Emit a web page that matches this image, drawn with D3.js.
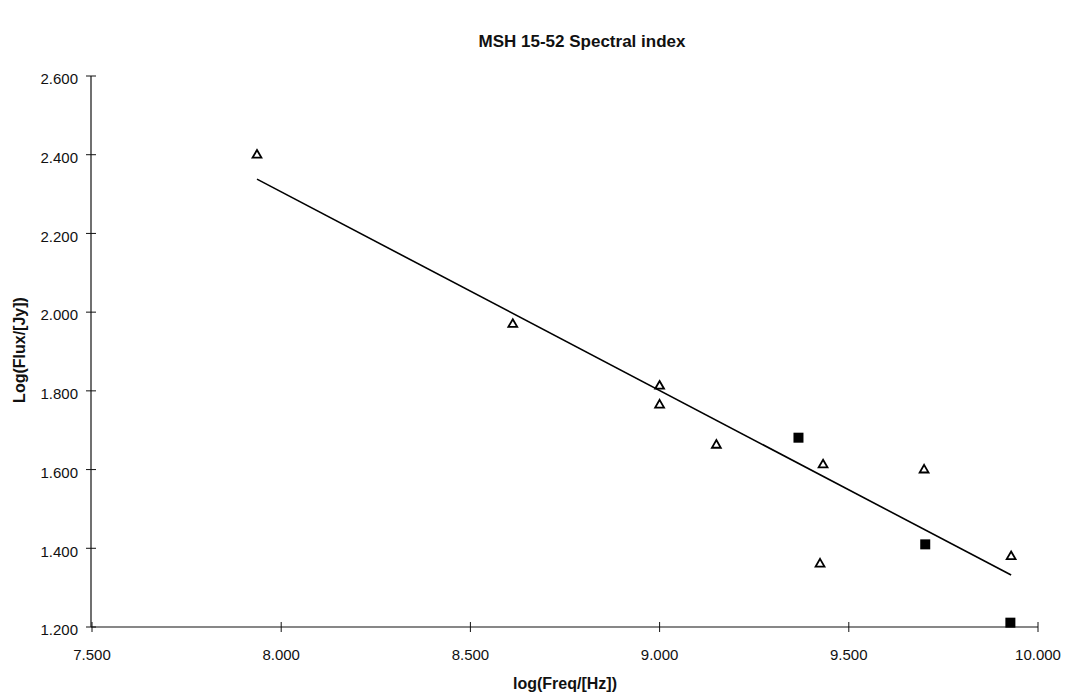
<!DOCTYPE html>
<html>
<head>
<meta charset="utf-8">
<script src="https://cdn.jsdelivr.net/npm/d3@7"></script>
<style>
  html, body { margin: 0; padding: 0; background: #fff; }
  svg { display: block; font-family: "Liberation Sans", Arial, sans-serif; }
</style>
</head>
<body>
<svg id="chart" width="1067" height="697"></svg>
<script>
// Radio spectrum of MSH 15-52: log frequency vs log flux density
const triX = [7.936, 8.612, 9.000, 9.000, 9.150, 9.432, 9.424, 9.699, 9.929];
const triY = [2.399, 1.969, 1.812, 1.764, 1.662, 1.612, 1.360, 1.599, 1.379];
const sqX = [9.367, 9.702, 9.927];
const sqY = [1.681, 1.410, 1.211];
// Fitted power law (straight line in log-log)
const fitX = [7.936, 9.929];
const fitY = [2.338, 1.332];
const xTicks = [7.5, 8.0, 8.5, 9.0, 9.5, 10.0];
const yTicks = [1.2, 1.4, 1.6, 1.8, 2.0, 2.2, 2.4, 2.6];

const svg = d3.select("#chart");
const x = d3.scaleLinear().domain([7.5, 10.0]).range([92, 1038]);
const y = d3.scaleLinear().domain([1.2, 2.6]).range([627, 76]);
const fmt = d3.format(".3f");

// Axes with ticks crossing the axis line
const xAxis = svg.append("g").attr("transform", `translate(0,${y(1.2)})`);
xAxis.append("line").attr("x1", 91).attr("x2", x(10)).attr("stroke", "#111").attr("stroke-width", 1.2);
xAxis.selectAll("line.t").data(xTicks).join("line").attr("class", "t")
  .attr("x1", d => x(d)).attr("x2", d => x(d)).attr("y1", -5).attr("y2", 5)
  .attr("stroke", "#111").attr("stroke-width", 1);
xAxis.selectAll("text").data(xTicks).join("text")
  .attr("x", d => x(d)).attr("y", 33).attr("text-anchor", "middle")
  .attr("font-size", 15).attr("fill", "#111").text(fmt);

const yAxis = svg.append("g").attr("transform", "translate(91,0)");
yAxis.append("line").attr("y1", y(2.6)).attr("y2", y(1.2)).attr("stroke", "#111").attr("stroke-width", 1.2);
yAxis.selectAll("line.t").data(yTicks).join("line").attr("class", "t")
  .attr("x1", -5).attr("x2", 5).attr("y1", d => y(d)).attr("y2", d => y(d))
  .attr("stroke", "#111").attr("stroke-width", 1);
yAxis.selectAll("text").data(yTicks).join("text")
  .attr("x", -13).attr("y", d => y(d) + 3).attr("dy", "0.35em").attr("text-anchor", "end")
  .attr("font-size", 15).attr("fill", "#111").text(fmt);

// Fit line
svg.append("path")
  .datum(fitX.map((v, i) => [v, fitY[i]]))
  .attr("d", d3.line().x(d => x(d[0])).y(d => y(d[1])))
  .attr("fill", "none").attr("stroke", "#000").attr("stroke-width", 1.6);

// Open triangles
const tri = d3.symbol().type(d3.symbolTriangle).size(34);
svg.append("g").selectAll("path").data(triX.map((v, i) => [v, triY[i]])).join("path")
  .attr("transform", d => `translate(${x(d[0])},${y(d[1])})`)
  .attr("d", tri).attr("fill", "#fff").attr("stroke", "#000").attr("stroke-width", 1.8);

// Filled squares
svg.append("g").selectAll("rect").data(sqX.map((v, i) => [v, sqY[i]])).join("rect")
  .attr("x", d => x(d[0]) - 5).attr("y", d => y(d[1]) - 5)
  .attr("width", 10).attr("height", 10).attr("fill", "#000");

// Titles
svg.append("text").attr("x", 582).attr("y", 47).attr("text-anchor", "middle")
  .attr("font-size", 17).attr("font-weight", "bold").attr("fill", "#111")
  .text("MSH 15-52 Spectral index");
svg.append("text").attr("x", 565).attr("y", 689).attr("text-anchor", "middle")
  .attr("font-size", 16).attr("font-weight", "bold").attr("fill", "#111")
  .text("log(Freq/[Hz])");
svg.append("text").attr("transform", "translate(25,350) rotate(-90)").attr("text-anchor", "middle")
  .attr("font-size", 16).attr("font-weight", "bold").attr("fill", "#111")
  .text("Log(Flux/[Jy])");
</script>
</body>
</html>
